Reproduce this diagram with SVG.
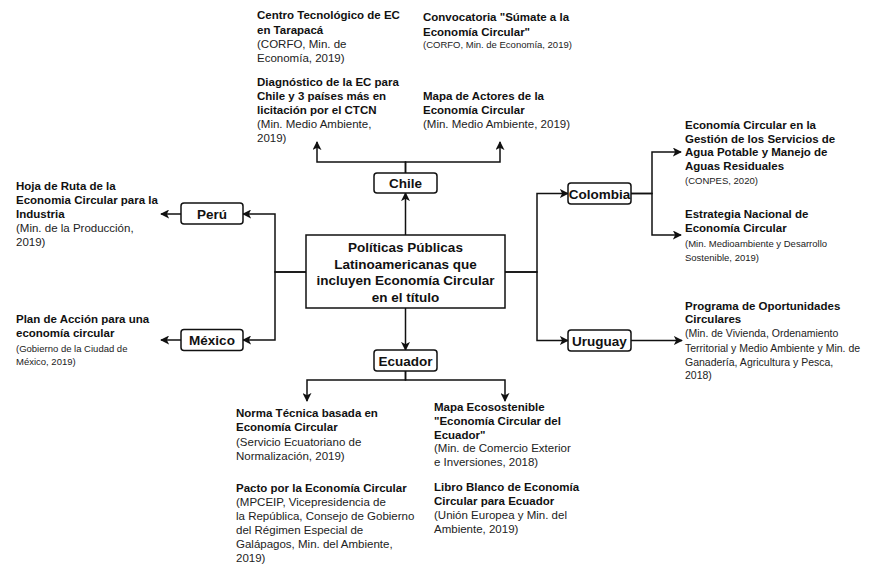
<svg xmlns="http://www.w3.org/2000/svg" width="894" height="573" viewBox="0 0 894 573">
<defs>
<marker id="ah" viewBox="0 0 10 10" refX="9" refY="5" markerWidth="9" markerHeight="9" markerUnits="userSpaceOnUse" orient="auto">
<path d="M0,0 L10,5 L0,10 L2.5,5 Z" fill="#111"/>
</marker>
<style>
.box{fill:#fff;stroke:#111;stroke-width:1.5}
.lbl{font-family:"Liberation Sans",Arial,sans-serif;font-weight:bold;font-size:13.5px;fill:#111;text-anchor:middle}
.b{font-family:"Liberation Sans",Arial,sans-serif;font-weight:bold;font-size:11.5px;fill:#111}
.n{font-family:"Liberation Sans",Arial,sans-serif;font-size:11.5px;fill:#222}
.s{font-family:"Liberation Sans",Arial,sans-serif;font-size:9.5px;fill:#222}
.m{font-family:"Liberation Sans",Arial,sans-serif;font-size:10.5px;fill:#222}
.e{fill:none;stroke:#111;stroke-width:1.5;marker-end:url(#ah)}
</style>
</defs>
<rect width="894" height="573" fill="#fff"/>
<g id="connectors">
<path class="e" d="M405.5,235 V193"/>
<path class="e" d="M405.5,173 V162 H317 V142"/>
<path class="e" d="M405.5,173 V162 H500 V142"/>
<path class="e" d="M306,272 H275 V214 H243"/>
<path class="e" d="M306,272 H275 V340 H243"/>
<path class="e" d="M181,214 H161"/>
<path class="e" d="M181,340 H161"/>
<path class="e" d="M505,272 H537 V193.5 H568"/>
<path class="e" d="M505,272 H537 V340.5 H568"/>
<path class="e" d="M631,193.5 H652 V152 H681"/>
<path class="e" d="M631,193.5 H652 V235 H681"/>
<path class="e" d="M631,340.5 H682"/>
<path class="e" d="M405.5,308 V350"/>
<path class="e" d="M405.5,371 V380 H307 V401"/>
<path class="e" d="M405.5,371 V380 H505 V401"/>
</g>
<g id="central">
<rect x="306" y="235" width="199" height="73" fill="#fff" stroke="#111" stroke-width="1.5"/>
<text class="lbl"><tspan x="405.5" y="252">Políticas Públicas</tspan><tspan x="405.5" y="268.5">Latinoamericanas que</tspan><tspan x="405.5" y="285">incluyen Economía Circular</tspan><tspan x="405.5" y="301.5">en el título</tspan></text>
</g>
<g id="chile"><rect class="box" x="374" y="173" width="63" height="20" rx="3"/><text class="lbl" x="405.5" y="188">Chile</text></g>
<g id="peru"><rect class="box" x="181" y="203" width="62" height="21" rx="3"/><text class="lbl" x="212" y="218.5">Perú</text></g>
<g id="mexico"><rect class="box" x="181" y="329.5" width="62" height="21" rx="3"/><text class="lbl" x="212" y="345">México</text></g>
<g id="ecuador"><rect class="box" x="374" y="350" width="63" height="21" rx="3"/><text class="lbl" x="405.5" y="365.5">Ecuador</text></g>
<g id="colombia"><rect class="box" x="568" y="183" width="63" height="21" rx="3"/><text class="lbl" x="599.5" y="198.5">Colombia</text></g>
<g id="uruguay"><rect class="box" x="568" y="330" width="63" height="21" rx="3"/><text class="lbl" x="599.5" y="345.5">Uruguay</text></g>
<g id="centro-tecnologico"><text><tspan class="b" x="257" y="19">Centro Tecnológico de EC</tspan><tspan class="b" x="257" y="34">en Tarapacá</tspan><tspan class="n" x="257" y="48">(CORFO, Min. de</tspan><tspan class="n" x="257" y="62">Economía, 2019)</tspan></text></g>
<g id="convocatoria"><text><tspan class="b" x="423" y="21">Convocatoria "Súmate a la</tspan><tspan class="b" x="423" y="36">Economía Circular"</tspan><tspan class="s" x="423" y="47.5">(CORFO, Min. de Economía, 2019)</tspan></text></g>
<g id="diagnostico"><text><tspan class="b" x="257" y="86">Diagnóstico de la EC para</tspan><tspan class="b" x="257" y="100">Chile y 3 países más en</tspan><tspan class="b" x="257" y="114">licitación por el CTCN</tspan><tspan class="n" x="257" y="128">(Min. Medio Ambiente,</tspan><tspan class="n" x="257" y="142">2019)</tspan></text></g>
<g id="mapa-actores"><text><tspan class="b" x="423" y="100">Mapa de Actores de la</tspan><tspan class="b" x="423" y="114">Economía Circular</tspan><tspan class="n" x="423" y="128">(Min. Medio Ambiente, 2019)</tspan></text></g>
<g id="hoja-ruta"><text><tspan class="b" x="16" y="190">Hoja de Ruta de la</tspan><tspan class="b" x="16" y="204">Economia Circular para la</tspan><tspan class="b" x="16" y="218">Industria</tspan><tspan class="n" x="16" y="232">(Min. de la Producción,</tspan><tspan class="n" x="16" y="245.5">2019)</tspan></text></g>
<g id="plan-accion"><text><tspan class="b" x="16" y="323">Plan de Acción para una</tspan><tspan class="b" x="16" y="337">economía circular</tspan><tspan class="s" x="16" y="351.5">(Gobierno de la Ciudad de</tspan><tspan class="s" x="16" y="365">México, 2019)</tspan></text></g>
<g id="agua-potable"><text><tspan class="b" x="685" y="129">Economía Circular en la</tspan><tspan class="b" x="685" y="142.5">Gestión de los Servicios de</tspan><tspan class="b" x="685" y="156">Agua Potable y Manejo de</tspan><tspan class="b" x="685" y="169.5">Aguas Residuales</tspan><tspan class="s" x="685" y="183.5">(CONPES, 2020)</tspan></text></g>
<g id="estrategia"><text><tspan class="b" x="685" y="218">Estrategia Nacional de</tspan><tspan class="b" x="685" y="232">Economía Circular</tspan><tspan class="s" x="685" y="246.5">(Min. Medioambiente y Desarrollo</tspan><tspan class="s" x="685" y="260.5">Sostenible, 2019)</tspan></text></g>
<g id="programa"><text><tspan class="b" x="685" y="310">Programa de Oportunidades</tspan><tspan class="b" x="685" y="323">Circulares</tspan><tspan class="m" x="685" y="337">(Min. de Vivienda, Ordenamiento</tspan><tspan class="m" x="685" y="351.5">Territorial y Medio Ambiente y Min. de</tspan><tspan class="m" x="685" y="365.5">Ganadería, Agricultura y Pesca,</tspan><tspan class="m" x="685" y="379">2018)</tspan></text></g>
<g id="norma-tecnica"><text><tspan class="b" x="236" y="417">Norma Técnica basada en</tspan><tspan class="b" x="236" y="431">Economía Circular</tspan><tspan class="n" x="236" y="446">(Servicio Ecuatoriano de</tspan><tspan class="n" x="236" y="460">Normalización, 2019)</tspan></text></g>
<g id="pacto"><text><tspan class="b" x="236" y="492">Pacto por la Economía Circular</tspan><tspan class="n" x="236" y="506">(MPCEIP, Vicepresidencia de</tspan><tspan class="n" x="236" y="520">la República, Consejo de Gobierno</tspan><tspan class="n" x="236" y="534">del Régimen Especial de</tspan><tspan class="n" x="236" y="548">Galápagos, Min. del Ambiente,</tspan><tspan class="n" x="236" y="562">2019)</tspan></text></g>
<g id="mapa-ecosostenible"><text><tspan class="b" x="434" y="411">Mapa Ecosostenible</tspan><tspan class="b" x="434" y="425">"Economía Circular del</tspan><tspan class="b" x="434" y="438.5">Ecuador"</tspan><tspan class="n" x="434" y="452">(Min. de Comercio Exterior</tspan><tspan class="n" x="434" y="465.5">e Inversiones, 2018)</tspan></text></g>
<g id="libro-blanco"><text><tspan class="b" x="434" y="491">Libro Blanco de Economía</tspan><tspan class="b" x="434" y="504.5">Circular para Ecuador</tspan><tspan class="n" x="434" y="519">(Unión Europea y Min. del</tspan><tspan class="n" x="434" y="532.5">Ambiente, 2019)</tspan></text></g>
</svg>
